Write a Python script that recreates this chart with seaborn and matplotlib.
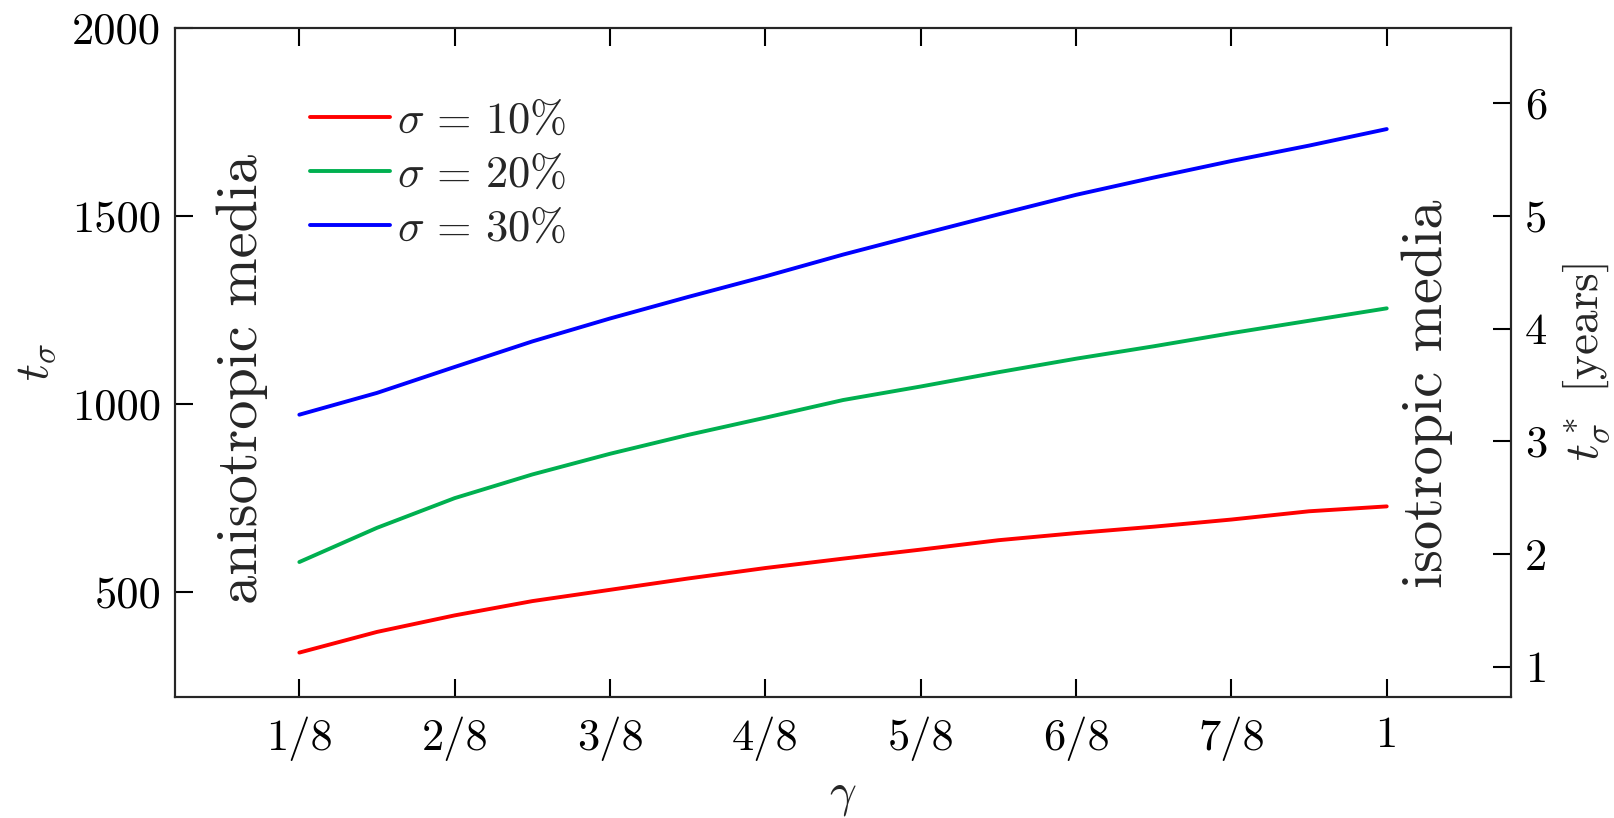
import numpy as np
import pandas as pd
import matplotlib
matplotlib.use("Agg")
import matplotlib.pyplot as plt
import seaborn as sns

gamma = [2/16, 3/16, 4/16, 5/16, 6/16, 7/16, 8/16, 9/16, 10/16, 11/16, 12/16, 13/16, 14/16, 15/16, 16/16]
t_10 = [338, 393, 437, 475, 505, 535, 563, 588, 612, 637, 656, 673, 692, 714, 727]
t_20 = [579, 670, 749, 812, 867, 917, 963, 1010, 1046, 1084, 1120, 1153, 1188, 1221, 1254]
t_30 = [971, 1029, 1098, 1166, 1227, 1284, 1339, 1397, 1451, 1504, 1556, 1602, 1646, 1687, 1731]
series_labels = [r'$\sigma\,=\,10\%$', r'$\sigma\,=\,20\%$', r'$\sigma\,=\,30\%$']
colors = ['#ff0000', '#00b050', '#0000ff']
x_ticks = [1/8, 2/8, 3/8, 4/8, 5/8, 6/8, 7/8, 1]
x_ticklabels = ['1/8', '2/8', '3/8', '4/8', '5/8', '6/8', '7/8', '1']
y_ticks = [500, 1000, 1500, 2000]
y2_ticks = [1, 2, 3, 4, 5, 6]
scale = 300.0

sns.set_theme(style="white")
plt.rcParams['font.family'] = ['cmr10', 'DejaVu Serif']
plt.rcParams['mathtext.fontset'] = 'cm'
plt.rcParams['axes.formatter.use_mathtext'] = True

df = pd.DataFrame({
    'gamma': gamma * 3,
    't': t_10 + t_20 + t_30,
    'series': [series_labels[0]] * len(gamma) + [series_labels[1]] * len(gamma) + [series_labels[2]] * len(gamma),
})

fig = plt.figure(figsize=(16.15, 8.18), dpi=100)
ax = fig.add_axes([0.1084, 0.148, 0.8272, 0.8178])
sns.lineplot(data=df, x='gamma', y='t', hue='series', palette=colors,
             linewidth=2.8, ax=ax, legend=True)

ax.set_xlim(0.025, 1.1)
ax.set_ylim(220, 2000)
ax.set_xticks(x_ticks)
ax.set_xticklabels(x_ticklabels)
ax.set_yticks(y_ticks)
ax.set_yticklabels([str(v) for v in y_ticks])
ax.tick_params(axis='both', direction='in', length=13, width=1.5, labelsize=32,
               colors='black', pad=10)
ax.tick_params(axis='x', top=True, bottom=True, pad=14)
ax.tick_params(axis='y', left=True, right=False)
for s in ax.spines.values():
    s.set_linewidth(1.5)
    s.set_color('black')
ax.set_xlabel(r'$\gamma$', fontsize=34, labelpad=11)
ax.set_ylabel(r'$t_\sigma$', fontsize=34, labelpad=10)

leg = ax.legend(loc='upper left', bbox_to_anchor=(0.071, 0.95), frameon=False,
                fontsize=32, handlelength=1.8, handletextpad=0.15, labelspacing=0.3)
for line in leg.get_lines():
    line.set_linewidth(2.8)

ax2 = ax.twinx()
ax2.set_ylim(220 / scale, 2000 / scale)
ax2.set_yticks(y2_ticks)
ax2.set_yticklabels([str(v) for v in y2_ticks])
ax2.tick_params(axis='y', direction='in', length=13, width=1.5, labelsize=32,
                colors='black', pad=10)
for s in ax2.spines.values():
    s.set_linewidth(1.5)
ax2.set_ylabel(r'$t^*_\sigma$ [years]', fontsize=34, labelpad=10)
ax2.grid(False)
ax.grid(False)

ax.text(0.050, 0.476, 'anisotropic media', rotation=90, transform=ax.transAxes,
        fontsize=42, ha='center', va='center')
ax.text(0.937, 0.453, 'isotropic media', rotation=90, transform=ax.transAxes,
        fontsize=42, ha='center', va='center')

fig.savefig('out.png', dpi=100)
